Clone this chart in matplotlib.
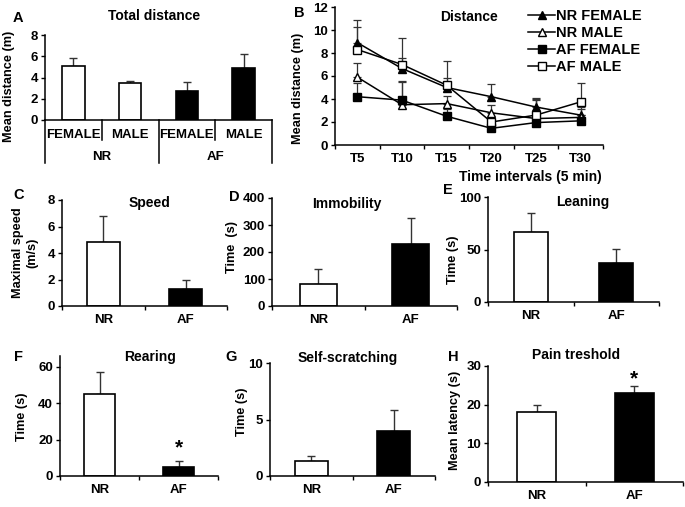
import matplotlib
matplotlib.use("Agg")
import matplotlib.pyplot as plt
import matplotlib.transforms as mtransforms
import numpy as np

plt.rcParams['font.family'] = ['Liberation Sans', 'DejaVu Sans']
plt.rcParams['font.weight'] = 'bold'
plt.rcParams['axes.linewidth'] = 1.1

W, H = 685, 507

# --- data ---
a_groups = ['NR', 'AF']
a_sex = ['FEMALE', 'MALE', 'FEMALE', 'MALE']
a_mean = [5.1, 3.45, 2.7, 4.9]
a_top = [5.8, 3.65, 3.6, 6.2]

b_times = ['T5', 'T10', 'T15', 'T20', 'T25', 'T30']
nr_female = [8.9, 6.65, 5.0, 4.2, 3.3, 2.6]
nr_female_top = [10.85, 7.6, 5.8, 5.3, 4.1, 3.1]
nr_male = [5.9, 3.5, 3.6, 2.8, 2.3, 2.4]
nr_male_top = [7.1, 5.6, 4.3, 3.5, 3.9, 3.3]
af_female = [4.2, 3.9, 2.5, 1.45, 1.95, 2.1]
af_female_top = [5.4, 5.5, 3.1, 1.45, 2.3, 2.6]
af_male = [8.3, 7.0, 5.2, 2.0, 2.6, 3.75]
af_male_top = [10.3, 9.3, 7.3, 2.0, 4.0, 5.4]

groups = ['NR', 'AF']
speed = [4.8, 1.3]
speed_top = [6.8, 1.95]
immob = [82, 228]
immob_top = [137, 327]
lean = [67, 37]
lean_top = [85, 50.5]
rear = [45, 5]
rear_top = [57, 8]
scratch = [1.3, 4.0]
scratch_top = [1.8, 5.8]
pain = [18, 23]
pain_top = [19.8, 24.8]

TICK = 9.5
LAB = 9.2
TIT = 10

fig = plt.figure(figsize=(W / 100, H / 100), dpi=100)


def ax_px(x0, y0, x1, y1):
    return fig.add_axes([x0 / W, 1 - y1 / H, (x1 - x0) / W, (y1 - y0) / H])


def letter(x, y, s):
    fig.text(x / W, 1 - y / H, s, fontsize=10.5, fontweight='bold', ha='left', va='center')


def style(ax):
    for s in ['top', 'right']:
        ax.spines[s].set_visible(False)
    ax.tick_params(axis='y', direction='out', length=3, width=1, labelsize=TICK, pad=2)
    for t in ax.get_yticklabels():
        t.set_fontweight('bold')


def bars(ax, vals, tops, colors, width=0.4):
    x = np.arange(len(vals))
    err = np.array(tops) - np.array(vals)
    ax.bar(x, vals, width=width, color=colors, edgecolor='black', linewidth=1.2, zorder=2)
    ax.errorbar(x, vals, yerr=[np.zeros(len(vals)), err], fmt='none',
                ecolor='#333333', elinewidth=1, capsize=3, capthick=1, zorder=1)
    return x


def two_bar(rect, vals, tops, ylim, yticks, title, title_xy, ylabel, lab_xy):
    ax = ax_px(*rect)
    bars(ax, vals, tops, ['white', 'black'])
    ax.set_xlim(-0.5, 1.5)
    ax.set_ylim(*ylim)
    ax.set_yticks(yticks)
    style(ax)
    ax.set_xticks([0, 1])
    ax.set_xticklabels(groups, fontsize=TICK, fontweight='bold')
    ax.tick_params(axis='x', length=0, pad=6)
    ax.set_xticks([-0.5, 0.5, 1.5], minor=True)
    ax.tick_params(axis='x', which='minor', direction='out', length=3, width=1)
    ax.text(title_xy[0], title_xy[1], title, transform=ax.transAxes, ha='center', va='center',
            fontsize=TIT, fontweight='bold')
    ax.set_ylabel(ylabel, fontsize=LAB, fontweight='bold')
    ax.yaxis.set_label_coords((lab_xy[0] - rect[0]) / (rect[2] - rect[0]), lab_xy[1])
    return ax


# --- A ---
axA = ax_px(45, 35, 272, 120)
bars(axA, a_mean, a_top, ['white', 'white', 'black', 'black'])
axA.set_xlim(-0.5, 3.5)
axA.set_ylim(0, 8)
axA.set_yticks([0, 2, 4, 6, 8])
style(axA)
axA.set_xticks([])
trA = mtransforms.blended_transform_factory(axA.transData, axA.transAxes)
for i, s in enumerate(a_sex):
    axA.text(i, -0.18, s, transform=trA, ha='center', va='center', fontsize=9.5, fontweight='bold')
for i, g in enumerate(a_groups):
    axA.text(0.5 + 2 * i, -0.44, g, transform=trA, ha='center', va='center', fontsize=9.5, fontweight='bold')
for xb_, depth in [(-0.5, -0.51), (0.5, -0.24), (1.5, -0.51), (2.5, -0.24), (3.5, -0.51)]:
    axA.plot([xb_, xb_], [0, depth], transform=trA, color='black', lw=1.1, clip_on=False)
axA.text(0.48, 1.22, 'Total distance', transform=axA.transAxes, ha='center', va='center',
         fontsize=TIT, fontweight='bold')
letter(13, 18, 'A')
axA.set_ylabel('Mean distance (m)', fontsize=LAB, fontweight='bold')
axA.yaxis.set_label_coords((15 - 45) / 227, 0.4)

# --- B ---
axB = ax_px(335, 7, 603, 145)
xb = np.arange(len(b_times))
series = [
    (nr_female, nr_female_top, '^', 'black', 'NR FEMALE'),
    (nr_male, nr_male_top, '^', 'white', 'NR MALE'),
    (af_female, af_female_top, 's', 'black', 'AF FEMALE'),
    (af_male, af_male_top, 's', 'white', 'AF MALE'),
]
for vals, tops, mk, fc, lab in series:
    err = np.array(tops) - np.array(vals)
    axB.errorbar(xb, vals, yerr=[np.zeros(len(vals)), err], fmt='none',
                 ecolor='#333333', elinewidth=0.9, capsize=3, capthick=0.9, zorder=1)
    axB.plot(xb, vals, color='black', lw=1.1, marker=mk, markersize=5.5,
             markerfacecolor=fc, markeredgecolor='black', markeredgewidth=1, label=lab, zorder=3)
axB.set_xlim(-0.5, 5.5)
axB.set_ylim(0, 12)
axB.set_yticks(np.arange(0, 13, 2))
style(axB)
axB.set_xticks(xb)
axB.set_xticklabels(b_times, fontsize=TICK, fontweight='bold')
axB.tick_params(axis='x', length=0, pad=6)
axB.set_xticks(np.arange(-0.5, 6, 1), minor=True)
axB.tick_params(axis='x', which='minor', direction='out', length=3, width=1)
axB.set_ylabel('Mean distance (m)', fontsize=LAB, fontweight='bold')
axB.yaxis.set_label_coords((304 - 335) / 268, 0.41)
axB.text(0.5, 0.93, 'Distance', transform=axB.transAxes, ha='center', va='center',
         fontsize=TIT, fontweight='bold')
letter(294, 13, 'B')
fig.text(530 / W, 1 - 177 / H, 'Time intervals (5 min)', fontsize=TIT, fontweight='bold',
         ha='center', va='center')
axB.legend(loc='upper left', bbox_to_anchor=(0.7, 1.03), frameon=False,
           prop={'weight': 'bold', 'size': 10.5}, handlelength=1.8, handletextpad=0.1,
           labelspacing=0.22, borderaxespad=0)

# --- C-H ---
two_bar((62, 200, 227, 306), speed, speed_top, (0, 8), [0, 2, 4, 6, 8], 'Speed', (0.53, 0.97),
        'Maximal speed\n(m/s)', (38, 0.5))
letter(13, 195, 'C')
two_bar((272, 198, 457, 306), immob, immob_top, (0, 400), [0, 100, 200, 300, 400], 'Immobility',
        (0.405, 0.944), 'Time  (s)', (238, 0.55))
letter(229, 197, 'D')
two_bar((488, 197, 659, 302), lean, lean_top, (0, 100), [0, 50, 100], 'Leaning', (0.555, 0.95),
        'Time (s)', (459, 0.4))
letter(443, 190, 'E')
axF = two_bar((60, 356, 218, 476), rear, rear_top, (0, 66), [0, 20, 40, 60], 'Rearing', (0.57, 0.99),
              'Time (s)', (28, 0.49))
letter(14, 357, 'F')
axF.text(1, 15.5, '*', ha='center', va='center', fontsize=15, fontweight='bold')
two_bar((270, 363, 435, 476), scratch, scratch_top, (0, 10), [0, 5, 10], 'Self-scratching',
        (0.47, 1.04), 'Time (s)', (248, 0.57))
letter(225, 357, 'G')
axH = two_bar((488, 366, 683, 482), pain, pain_top, (0, 30), [0, 10, 20, 30], 'Pain treshold',
              (0.45, 1.095), 'Mean latency (s)', (461, 0.53))
letter(448, 357, 'H')
axH.text(1, 26.6, '*', ha='center', va='center', fontsize=15, fontweight='bold')

fig.savefig('out.png', dpi=100)
